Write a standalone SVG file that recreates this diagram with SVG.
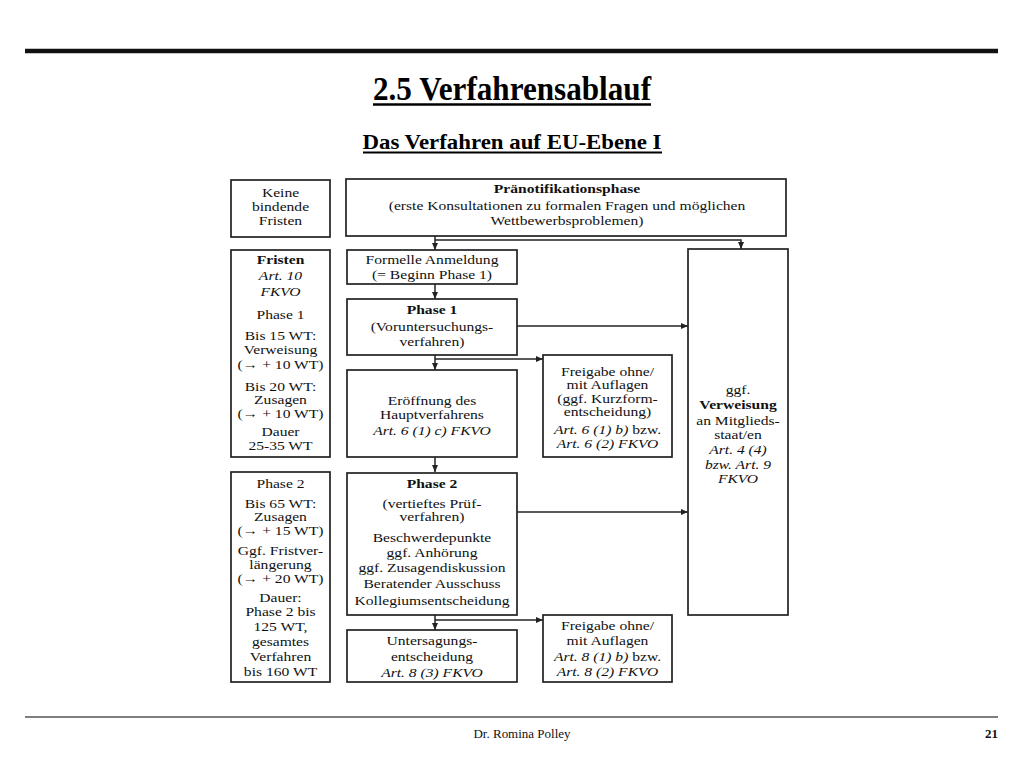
<svg xmlns="http://www.w3.org/2000/svg" width="1024" height="768" viewBox="0 0 1024 768">
<style>
.box{fill:#fff;stroke:#222;stroke-width:1.7}
.t{font-family:"Liberation Serif","Times New Roman",serif;font-size:13px;fill:#111;text-anchor:middle}
.b{font-weight:bold}
.i{font-style:italic}
.c{fill:none;stroke:#222;stroke-width:1.5}
</style>
<defs>
<marker id="ah" markerWidth="8" markerHeight="8" refX="7" refY="4" orient="auto" markerUnits="userSpaceOnUse">
<path d="M0,1 L7,4 L0,7 Z" fill="#222"/>
</marker>
</defs>
<rect width="1024" height="768" fill="#fff"/>
<g id="header">
<line x1="25" y1="51" x2="998" y2="51" stroke="#111" stroke-width="4.5"/>
<text x="512" y="100" font-family="Liberation Serif,serif" font-weight="bold" font-size="34" text-anchor="middle" textLength="278" lengthAdjust="spacingAndGlyphs" fill="#000">2.5 Verfahrensablauf</text>
<line x1="373" y1="104.5" x2="651" y2="104.5" stroke="#000" stroke-width="2.5"/>
<text x="512" y="149" font-family="Liberation Serif,serif" font-weight="bold" font-size="22" text-anchor="middle" textLength="299" lengthAdjust="spacingAndGlyphs" fill="#000">Das Verfahren auf EU-Ebene I</text>
<line x1="363" y1="152.5" x2="662" y2="152.5" stroke="#000" stroke-width="2"/>
</g>
<g id="footer">
<line x1="25" y1="717" x2="998" y2="717" stroke="#555" stroke-width="1.5"/>
<text x="522" y="738" font-family="Liberation Serif,serif" font-size="13" text-anchor="middle" textLength="97" lengthAdjust="spacingAndGlyphs" fill="#111">Dr. Romina Polley</text>
<text x="998" y="738" font-family="Liberation Serif,serif" font-size="13" font-weight="bold" text-anchor="end" fill="#111">21</text>
</g>
<g id="connectors">
<line class="c" x1="435" y1="236" x2="435" y2="250" marker-end="url(#ah)"/>
<polyline class="c" points="435,240 741,240 741,249" marker-end="url(#ah)"/>
<line class="c" x1="435" y1="284" x2="435" y2="299" marker-end="url(#ah)"/>
<line class="c" x1="517" y1="326" x2="688" y2="326" marker-end="url(#ah)"/>
<line class="c" x1="435" y1="355" x2="435" y2="370" marker-end="url(#ah)"/>
<line class="c" x1="435" y1="359" x2="543" y2="359" marker-end="url(#ah)"/>
<line class="c" x1="435" y1="457" x2="435" y2="472" marker-end="url(#ah)"/>
<line class="c" x1="517" y1="512" x2="688" y2="512" marker-end="url(#ah)"/>
<line class="c" x1="435" y1="615" x2="435" y2="630" marker-end="url(#ah)"/>
<line class="c" x1="435" y1="620" x2="543" y2="620" marker-end="url(#ah)"/>
</g>
<g id="keine">
<rect class="box" x="231" y="180" width="99" height="57"/>
<g transform="translate(280.5,0) scale(1.2,1)">
<text class="t" x="0" y="197">Keine</text>
<text class="t" x="0" y="211">bindende</text>
<text class="t" x="0" y="225">Fristen</text>
</g>
</g>
<g id="praenotifikation">
<rect class="box" x="346" y="179" width="440" height="57"/>
<g transform="translate(567,0) scale(1.2,1)">
<text class="t b" x="0" y="193">Pränotifikationsphase</text>
<text class="t" x="0" y="210">(erste Konsultationen zu formalen Fragen und möglichen</text>
<text class="t" x="0" y="225">Wettbewerbsproblemen)</text>
</g>
</g>
<g id="fristen1">
<rect class="box" x="231" y="250" width="99" height="207"/>
<g transform="translate(280.5,0) scale(1.2,1)">
<text class="t b" x="0" y="264">Fristen</text>
<text class="t i" x="0" y="280">Art. 10</text>
<text class="t i" x="0" y="296">FKVO</text>
<text class="t" x="0" y="319">Phase 1</text>
<text class="t" x="0" y="340">Bis 15 WT:</text>
<text class="t" x="0" y="354">Verweisung</text>
<text class="t" x="0" y="369">(→ + 10 WT)</text>
<text class="t" x="0" y="391">Bis 20 WT:</text>
<text class="t" x="0" y="404">Zusagen</text>
<text class="t" x="0" y="418">(→ + 10 WT)</text>
<text class="t" x="0" y="436">Dauer</text>
<text class="t" x="0" y="450">25-35 WT</text>
</g>
</g>
<g id="anmeldung">
<rect class="box" x="347" y="250" width="170" height="34"/>
<g transform="translate(432,0) scale(1.2,1)">
<text class="t" x="0" y="264">Formelle Anmeldung</text>
<text class="t" x="0" y="279">(= Beginn Phase 1)</text>
</g>
</g>
<g id="phase1">
<rect class="box" x="347" y="299" width="170" height="56"/>
<g transform="translate(432,0) scale(1.2,1)">
<text class="t b" x="0" y="314">Phase 1</text>
<text class="t" x="0" y="331">(Voruntersuchungs-</text>
<text class="t" x="0" y="346">verfahren)</text>
</g>
</g>
<g id="eroeffnung">
<rect class="box" x="347" y="370" width="170" height="87"/>
<g transform="translate(432,0) scale(1.2,1)">
<text class="t" x="0" y="405">Eröffnung des</text>
<text class="t" x="0" y="419">Hauptverfahrens</text>
<text class="t i" x="0" y="435">Art. 6 (1) c) FKVO</text>
</g>
</g>
<g id="freigabe1">
<rect class="box" x="543" y="355" width="129" height="102"/>
<g transform="translate(607.5,0) scale(1.2,1)">
<text class="t" x="0" y="376">Freigabe ohne/</text>
<text class="t" x="0" y="389">mit Auflagen</text>
<text class="t" x="0" y="403">(ggf. Kurzform-</text>
<text class="t" x="0" y="416">entscheidung)</text>
<text class="t" x="0" y="434"><tspan class="i">Art. 6 (1) b)</tspan> bzw.</text>
<text class="t i" x="0" y="448">Art. 6 (2) FKVO</text>
</g>
</g>
<g id="verweisung">
<rect class="box" x="688" y="249" width="100" height="366"/>
<g transform="translate(738,0) scale(1.2,1)">
<text class="t" x="0" y="394">ggf.</text>
<text class="t b" x="0" y="409">Verweisung</text>
<text class="t" x="0" y="425">an Mitglieds-</text>
<text class="t" x="0" y="439">staat/en</text>
<text class="t i" x="0" y="454">Art. 4 (4)</text>
<text class="t i" x="0" y="469">bzw. Art. 9</text>
<text class="t i" x="0" y="483">FKVO</text>
</g>
</g>
<g id="fristen2">
<rect class="box" x="231" y="472" width="99" height="210"/>
<g transform="translate(280.5,0) scale(1.2,1)">
<text class="t" x="0" y="488">Phase 2</text>
<text class="t" x="0" y="508">Bis 65 WT:</text>
<text class="t" x="0" y="521">Zusagen</text>
<text class="t" x="0" y="535">(→ + 15 WT)</text>
<text class="t" x="0" y="555">Ggf. Fristver-</text>
<text class="t" x="0" y="569">längerung</text>
<text class="t" x="0" y="583">(→ + 20 WT)</text>
<text class="t" x="0" y="602">Dauer:</text>
<text class="t" x="0" y="616">Phase 2 bis</text>
<text class="t" x="0" y="631">125 WT,</text>
<text class="t" x="0" y="646">gesamtes</text>
<text class="t" x="0" y="661">Verfahren</text>
<text class="t" x="0" y="676">bis 160 WT</text>
</g>
</g>
<g id="phase2">
<rect class="box" x="347" y="473" width="170" height="142"/>
<g transform="translate(432,0) scale(1.2,1)">
<text class="t b" x="0" y="488">Phase 2</text>
<text class="t" x="0" y="508">(vertieftes Prüf-</text>
<text class="t" x="0" y="521">verfahren)</text>
<text class="t" x="0" y="542">Beschwerdepunkte</text>
<text class="t" x="0" y="557">ggf. Anhörung</text>
<text class="t" x="0" y="572">ggf. Zusagendiskussion</text>
<text class="t" x="0" y="588">Beratender Ausschuss</text>
<text class="t" x="0" y="605">Kollegiumsentscheidung</text>
</g>
</g>
<g id="untersagung">
<rect class="box" x="347" y="630" width="170" height="52"/>
<g transform="translate(432,0) scale(1.2,1)">
<text class="t" x="0" y="645">Untersagungs-</text>
<text class="t" x="0" y="661">entscheidung</text>
<text class="t i" x="0" y="677">Art. 8 (3) FKVO</text>
</g>
</g>
<g id="freigabe2">
<rect class="box" x="543" y="615" width="129" height="67"/>
<g transform="translate(607.5,0) scale(1.2,1)">
<text class="t" x="0" y="630">Freigabe ohne/</text>
<text class="t" x="0" y="645">mit Auflagen</text>
<text class="t" x="0" y="661"><tspan class="i">Art. 8 (1) b)</tspan> bzw.</text>
<text class="t i" x="0" y="676">Art. 8 (2) FKVO</text>
</g>
</g>
</svg>
